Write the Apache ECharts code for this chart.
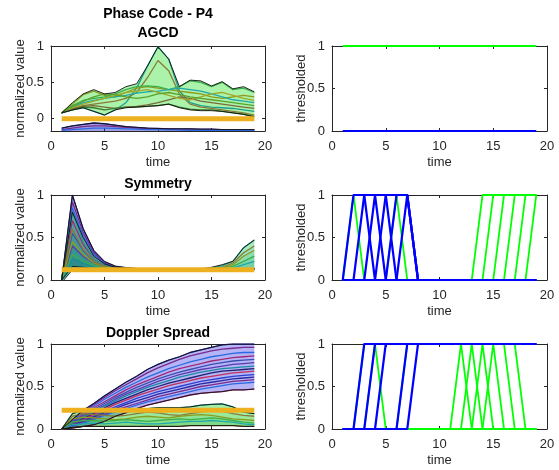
<!DOCTYPE html>
<html>
<head>
<meta charset="utf-8">
<script src="https://cdn.jsdelivr.net/npm/echarts@6/dist/echarts.min.js"></script>
<style>
  html, body { margin: 0; padding: 0; background: #fff; }
  #chart { width: 559px; height: 470px; }
</style>
</head>
<body>
<div id="chart"></div>
<script>
// time axis
const t = [1,2,3,4,5,6,7,8,9,10,11,12,13,14,15,16,17,18,19];
const yTicks = [0, 0.5, 1];
const thresholds = [0, 0.12, 0.22];   // AGCD, Symmetry, Doppler Spread

// ---- AGCD (normalized) ----
const agcdGreenUpper = [0.08,0.22,0.34,0.40,0.34,0.36,0.44,0.48,0.72,0.99,0.82,0.44,0.53,0.52,0.45,0.51,0.41,0.44,0.37];
const agcdGreenLower = [0.08,0.12,0.15,0.10,0.05,0.12,0.15,0.16,0.17,0.18,0.20,0.15,0.12,0.11,0.11,0.10,0.08,0.06,0.02];
const agcdGreenLines = [
  [0.08,0.12,0.15,0.10,0.05,0.12,0.22,0.42,0.72,0.99,0.82,0.38,0.22,0.18,0.16,0.15,0.14,0.12,0.10],
  [0.08,0.14,0.18,0.20,0.22,0.24,0.28,0.36,0.56,0.80,0.66,0.34,0.20,0.16,0.14,0.12,0.10,0.08,0.05],
  [0.08,0.20,0.33,0.38,0.32,0.30,0.36,0.42,0.44,0.42,0.40,0.38,0.36,0.34,0.30,0.28,0.30,0.32,0.30],
  [0.08,0.18,0.25,0.28,0.30,0.34,0.40,0.44,0.45,0.44,0.40,0.44,0.52,0.50,0.44,0.50,0.40,0.42,0.36],
  [0.08,0.16,0.22,0.25,0.28,0.30,0.32,0.35,0.37,0.38,0.40,0.42,0.40,0.38,0.34,0.30,0.26,0.24,0.22],
  [0.08,0.13,0.17,0.18,0.16,0.14,0.16,0.17,0.19,0.22,0.26,0.30,0.28,0.24,0.22,0.20,0.18,0.16,0.14],
  [0.08,0.15,0.20,0.24,0.28,0.32,0.36,0.38,0.40,0.36,0.32,0.28,0.26,0.30,0.34,0.36,0.32,0.28,0.25],
  [0.08,0.12,0.16,0.15,0.12,0.14,0.16,0.16,0.17,0.18,0.20,0.16,0.13,0.12,0.12,0.10,0.08,0.06,0.03],
  [0.08,0.17,0.24,0.30,0.34,0.33,0.30,0.28,0.30,0.34,0.36,0.33,0.30,0.28,0.26,0.24,0.22,0.20,0.18]
];
const agcdBlueUpper = [-0.13,-0.10,-0.08,-0.06,-0.07,-0.09,-0.11,-0.12,-0.13,-0.135,-0.14,-0.14,-0.14,-0.145,-0.145,-0.15,-0.15,-0.15,-0.15];
const agcdBlueLower = [-0.22,-0.22,-0.22,-0.22,-0.22,-0.22,-0.22,-0.22,-0.22,-0.22,-0.22,-0.22,-0.22,-0.22,-0.22,-0.22,-0.22,-0.22,-0.22];
const agcdBlueLines = [
  [-0.13,-0.10,-0.08,-0.06,-0.07,-0.09,-0.11,-0.12,-0.13,-0.135,-0.14,-0.14,-0.14,-0.145,-0.145,-0.15,-0.15,-0.15,-0.15],
  [-0.15,-0.13,-0.11,-0.10,-0.10,-0.11,-0.12,-0.13,-0.14,-0.14,-0.145,-0.15,-0.15,-0.15,-0.15,-0.155,-0.155,-0.155,-0.155],
  [-0.16,-0.15,-0.14,-0.13,-0.13,-0.135,-0.14,-0.145,-0.15,-0.15,-0.155,-0.155,-0.16,-0.16,-0.16,-0.16,-0.16,-0.16,-0.16]
];

// ---- Symmetry (normalized) ----
const symBlueUpper = [0,1.00,0.61,0.35,0.22,0.165,0.145,0.135,0.13,0.13,0.13,0.13,0.13,0.13,0.13,0.13,0.13,0.13,0.13];
const symBlueLower = [0,0.16,0.15,0.13,0.125,0.12,0.12,0.12,0.12,0.12,0.12,0.12,0.12,0.12,0.12,0.12,0.12,0.12,0.12];
const symBlueLines = [
  [0,1.00,0.60,0.34,0.21,0.16,0.145,0.135,0.13,0.13,0.13,0.13,0.13,0.13,0.13,0.13,0.13,0.13,0.13],
  [0,0.92,0.56,0.32,0.20,0.155,0.14,0.13,0.13,0.13,0.13,0.13,0.13,0.13,0.13,0.13,0.13,0.13,0.13],
  [0,0.85,0.52,0.30,0.19,0.15,0.14,0.13,0.13,0.13,0.13,0.13,0.13,0.13,0.13,0.13,0.13,0.13,0.13],
  [0,0.70,0.42,0.25,0.17,0.14,0.13,0.13,0.13,0.13,0.13,0.13,0.13,0.13,0.13,0.13,0.13,0.13,0.13],
  [0,0.55,0.35,0.22,0.16,0.14,0.13,0.13,0.13,0.13,0.13,0.13,0.13,0.13,0.13,0.13,0.13,0.13,0.13],
  [0,0.40,0.28,0.20,0.15,0.13,0.13,0.13,0.13,0.13,0.13,0.13,0.13,0.13,0.13,0.13,0.13,0.13,0.13],
  [0,0.25,0.20,0.16,0.14,0.13,0.13,0.13,0.13,0.13,0.13,0.13,0.13,0.13,0.13,0.13,0.13,0.13,0.13]
];
const symGreenUpper = [0,0.80,0.50,0.28,0.19,0.15,0.14,0.13,0.13,0.13,0.13,0.13,0.13,0.13,0.15,0.18,0.22,0.38,0.47];
const symGreenLower = [-0.03,0.12,0.12,0.11,0.11,0.11,0.11,0.11,0.11,0.11,0.11,0.11,0.11,0.11,0.11,0.12,0.12,0.13,0.13];
const symGreenLines = [
  [0,0.80,0.45,0.25,0.17,0.14,0.13,0.13,0.13,0.13,0.13,0.13,0.13,0.13,0.14,0.17,0.22,0.38,0.47],
  [0,0.60,0.36,0.22,0.16,0.14,0.13,0.13,0.13,0.13,0.13,0.13,0.13,0.13,0.13,0.15,0.20,0.32,0.40],
  [0,0.45,0.30,0.20,0.15,0.13,0.13,0.13,0.13,0.13,0.13,0.13,0.13,0.13,0.13,0.14,0.18,0.28,0.35],
  [0,0.30,0.22,0.17,0.14,0.13,0.13,0.13,0.13,0.13,0.13,0.13,0.13,0.13,0.13,0.13,0.16,0.22,0.28],
  [0,0.15,0.15,0.14,0.13,0.13,0.13,0.13,0.13,0.13,0.13,0.13,0.13,0.13,0.13,0.13,0.14,0.18,0.22]
];

// ---- Doppler Spread (normalized) ----
const dopBlueUpper = [0,0.11,0.22,0.30,0.39,0.47,0.55,0.62,0.70,0.76,0.81,0.85,0.90,0.93,0.96,0.99,1.00,1.00,1.00];
const dopBlueLower = [0,0.01,0.03,0.05,0.09,0.15,0.19,0.24,0.28,0.31,0.34,0.37,0.40,0.42,0.43,0.44,0.46,0.46,0.47];
const dopBlueLines = [
  [0,0.11,0.22,0.30,0.39,0.47,0.55,0.62,0.70,0.76,0.81,0.85,0.90,0.93,0.96,0.99,1.00,1.00,1.00],
  [0,0.10,0.20,0.29,0.37,0.45,0.52,0.59,0.66,0.72,0.77,0.82,0.86,0.89,0.92,0.94,0.95,0.96,0.96],
  [0,0.09,0.19,0.27,0.35,0.42,0.49,0.55,0.61,0.66,0.71,0.75,0.79,0.82,0.85,0.87,0.89,0.90,0.90],
  [0,0.08,0.17,0.25,0.32,0.39,0.46,0.52,0.57,0.62,0.67,0.71,0.74,0.77,0.80,0.82,0.84,0.85,0.86],
  [0,0.07,0.16,0.23,0.30,0.37,0.43,0.49,0.54,0.59,0.63,0.67,0.70,0.73,0.76,0.78,0.80,0.81,0.82],
  [0,0.07,0.14,0.21,0.28,0.35,0.41,0.46,0.51,0.56,0.60,0.64,0.67,0.70,0.72,0.74,0.76,0.77,0.78],
  [0,0.06,0.13,0.20,0.27,0.33,0.39,0.44,0.49,0.53,0.57,0.61,0.64,0.67,0.69,0.71,0.72,0.73,0.74],
  [0,0.05,0.12,0.18,0.25,0.31,0.36,0.41,0.46,0.50,0.54,0.57,0.60,0.63,0.66,0.68,0.69,0.70,0.71],
  [0,0.05,0.11,0.17,0.23,0.29,0.34,0.39,0.43,0.47,0.51,0.54,0.57,0.60,0.62,0.64,0.66,0.67,0.68],
  [0,0.04,0.10,0.15,0.21,0.26,0.31,0.36,0.40,0.44,0.47,0.50,0.53,0.56,0.58,0.60,0.62,0.63,0.64],
  [0,0.04,0.09,0.14,0.19,0.24,0.29,0.33,0.37,0.41,0.44,0.47,0.50,0.53,0.55,0.57,0.59,0.60,0.61],
  [0,0.03,0.08,0.12,0.17,0.22,0.26,0.30,0.34,0.38,0.41,0.44,0.47,0.50,0.52,0.54,0.56,0.57,0.58],
  [0,0.03,0.07,0.11,0.16,0.20,0.24,0.28,0.32,0.35,0.38,0.41,0.44,0.47,0.49,0.51,0.53,0.54,0.55],
  [0,0.01,0.03,0.05,0.09,0.15,0.19,0.24,0.28,0.31,0.34,0.37,0.40,0.42,0.43,0.44,0.46,0.46,0.47]
];
const dopGreenUpper = [0,0.18,0.22,0.21,0.20,0.21,0.22,0.23,0.24,0.25,0.25,0.25,0.26,0.28,0.29,0.295,0.26,0.20,0.18];
const dopGreenLower = [0,0.02,0.03,0.03,0.03,0.03,0.03,0.03,0.03,0.03,0.03,0.03,0.04,0.04,0.04,0.04,0.04,0.03,0.03];
const dopGreenLines = [
  [0,0.18,0.22,0.21,0.20,0.21,0.22,0.23,0.24,0.25,0.25,0.25,0.26,0.28,0.29,0.295,0.26,0.20,0.18],
  [0,0.15,0.18,0.17,0.16,0.15,0.16,0.18,0.20,0.19,0.17,0.16,0.18,0.20,0.22,0.21,0.18,0.16,0.15],
  [0,0.12,0.14,0.13,0.12,0.11,0.12,0.14,0.15,0.14,0.13,0.15,0.16,0.17,0.16,0.14,0.12,0.11,0.10],
  [0,0.08,0.10,0.10,0.09,0.10,0.11,0.10,0.09,0.10,0.11,0.12,0.11,0.12,0.13,0.12,0.10,0.08,0.07],
  [0,0.05,0.06,0.07,0.06,0.07,0.08,0.07,0.06,0.06,0.07,0.08,0.09,0.09,0.10,0.09,0.08,0.06,0.05],
  [0,0.02,0.03,0.03,0.03,0.03,0.03,0.03,0.03,0.03,0.03,0.03,0.04,0.04,0.04,0.04,0.04,0.03,0.03]
];

// ---- thresholded ----
const agcdThrGreen = [[1,1,1,1,1,1,1,1,1,1,1,1,1,1,1,1,1,1,1]];
const agcdThrBlue  = [[0,0,0,0,0,0,0,0,0,0,0,0,0,0,0,0,0,0,0]];
const symThrGreen = [
  [0,1,0,0,0,0,0,0,0,0,0,0,0,0,0,0,0,0,0],
  [0,0,0,0,0,1,0,0,0,0,0,0,0,0,0,0,0,0,0],
  [0,0,0,0,0,0,0,0,0,0,0,0,0,1,1,1,1,1,1],
  [0,0,0,0,0,0,0,0,0,0,0,0,0,0,1,1,1,1,1],
  [0,0,0,0,0,0,0,0,0,0,0,0,0,0,0,1,1,1,1],
  [0,0,0,0,0,0,0,0,0,0,0,0,0,0,0,0,1,1,1],
  [0,0,0,0,0,0,0,0,0,0,0,0,0,0,0,0,0,1,1],
  [0,0,0,0,0,0,0,0,0,0,0,0,0,0,0,0,0,0,1]
];
const symThrBlue = [
  [0,1,1,0,0,0,0,0,0,0,0,0,0,0,0,0,0,0,0],
  [0,0,1,1,0,0,0,0,0,0,0,0,0,0,0,0,0,0,0],
  [0,0,0,1,1,0,0,0,0,0,0,0,0,0,0,0,0,0,0],
  [0,0,0,0,1,1,1,0,0,0,0,0,0,0,0,0,0,0,0],
  [0,0,0,0,0,1,1,0,0,0,0,0,0,0,0,0,0,0,0],
  [0,0,0,0,0,0,1,0,0,0,0,0,0,0,0,0,0,0,0]
];
const dopThrGreen = [
  [0,0,1,1,0,0,0,0,0,0,0,0,0,0,0,0,0,0,0],
  [0,0,0,0,0,0,0,0,0,0,0,1,0,0,0,0,0,0,0],
  [0,0,0,0,0,0,0,0,0,0,0,0,1,0,0,0,0,0,0],
  [0,0,0,0,0,0,0,0,0,0,0,0,0,1,0,0,0,0,0],
  [0,0,0,0,0,0,0,0,0,0,0,0,0,0,1,0,0,0,0],
  [0,0,0,1,1,1,1,1,1,1,1,1,1,1,1,1,0,0,0],
  [0,0,0,0,0,0,1,1,1,1,1,1,1,1,1,1,1,0,0]
];
const dopThrBlue = [
  [0,0,1,1,1,1,1,1,1,1,1,1,1,1,1,1,1,1,1],
  [0,0,0,1,1,1,1,1,1,1,1,1,1,1,1,1,1,1,1],
  [0,0,0,0,1,1,1,1,1,1,1,1,1,1,1,1,1,1,1],
  [0,0,0,0,0,0,1,1,1,1,1,1,1,1,1,1,1,1,1],
  [0,0,0,0,0,0,0,1,1,1,1,1,1,1,1,1,1,1,1]
];

const greenPal = ['#1f9e8e','#8a7a3a','#8c9a1e','#3cae4c','#20a8a8','#7a6a3a','#a0a828','#3a7a2a','#5aa02a'];
const bluePal  = ['#2a2aa0','#7a2a8a','#2a6ae0','#a02a7a','#3a50b0','#5a3ab0','#1a8aa0','#202070','#c03060','#2a40d0'];
const txt = '#262626';
const font = 'Liberation Sans';

const chart = echarts.init(document.getElementById('chart'), null, { renderer: 'canvas' });

const grids = [
  { left: 51,  top: 46,  width: 214, height: 85 },
  { left: 332, top: 46,  width: 215, height: 85 },
  { left: 51,  top: 195, width: 214, height: 85 },
  { left: 332, top: 195, width: 215, height: 85 },
  { left: 51,  top: 344, width: 214, height: 85 },
  { left: 332, top: 344, width: 215, height: 85 }
];
const yMins = [-0.17, 0, 0, 0, 0, 0];
const yNames = ['normalized value', 'thresholded'];

const xAxis = [], yAxis = [];
grids.forEach(function (g, i) {
  g.outerBoundsMode = 'none';
  g.containLabel = false;
  [0, 1].forEach(function (k) {
    xAxis.push({
      type: 'value', gridIndex: i, position: k ? 'top' : 'bottom',
      min: 0, max: 20, interval: 5,
      axisLine: { show: true, onZero: false, lineStyle: { color: txt, width: 1 } },
      axisTick: { show: true, inside: true, length: 3, lineStyle: { color: txt } },
      axisLabel: { show: !k, color: txt, fontSize: 13, fontFamily: font, margin: 9 },
      splitLine: { show: false },
      name: k ? '' : 'time', nameLocation: 'middle', nameGap: 25, nameMoveOverlap: false,
      nameTextStyle: { color: txt, fontSize: 13, fontFamily: font }
    });
    yAxis.push({
      type: 'value', gridIndex: i, position: k ? 'right' : 'left',
      min: yMins[i], max: 1,
      axisLine: { show: true, onZero: false, lineStyle: { color: txt, width: 1 } },
      axisTick: { show: true, inside: true, length: 3, customValues: yTicks, lineStyle: { color: txt } },
      axisLabel: { show: !k, color: txt, fontSize: 13, fontFamily: font, margin: 7, customValues: yTicks },
      splitLine: { show: false },
      name: k ? '' : yNames[i % 2], nameLocation: 'middle', nameGap: 24, nameRotate: 90, nameMoveOverlap: false,
      nameTextStyle: { color: txt, fontSize: 13, fontFamily: font }
    });
  });
});

const series = [];
function lineS(gi, ys, color, width, z) {
  series.push({
    type: 'line', xAxisIndex: gi * 2, yAxisIndex: gi * 2,
    data: t.map(function (x, k) { return [x, ys[k]]; }),
    symbol: 'none', silent: true, animation: false, z: z,
    lineStyle: { color: color, width: width }
  });
}
function band(gi, upper, lower, fill, z) {
  series.push({
    type: 'custom', xAxisIndex: gi * 2, yAxisIndex: gi * 2,
    data: [[t[0], upper[0]]], clip: true, silent: true, animation: false, z: z,
    renderItem: function (params, api) {
      const pts = [];
      for (let k = 0; k < t.length; k++) pts.push(api.coord([t[k], upper[k]]));
      for (let k = t.length - 1; k >= 0; k--) pts.push(api.coord([t[k], lower[k]]));
      return { type: 'polygon', shape: { points: pts }, style: { fill: fill, stroke: null } };
    }
  });
}
function group(gi, upper, lower, lines, fill, pal, layer) {
  band(gi, upper, lower, fill, 1);
  if (layer) lines.forEach(function (ys) { band(gi, ys, lower, layer, 1); });
  lines.forEach(function (ys, j) { lineS(gi, ys, pal[j % pal.length], 1.3, 3); });
  lineS(gi, upper, '#111', 0.9, 4);
  lineS(gi, lower, '#111', 0.9, 4);
}
function thrLine(gi, level) {
  lineS(gi, t.map(function () { return level; }), '#EDB120', 5, 6);
}

// AGCD
group(0, agcdGreenUpper, agcdGreenLower, agcdGreenLines, 'rgba(0,220,0,0.33)', greenPal);
group(0, agcdBlueUpper, agcdBlueLower, agcdBlueLines, 'rgba(40,40,200,0.45)', bluePal);
thrLine(0, thresholds[0]);
// Symmetry
group(2, symBlueUpper, symBlueLower, symBlueLines, 'rgba(60,40,230,0.35)', bluePal, 'rgba(20,60,150,0.10)');
group(2, symGreenUpper, symGreenLower, symGreenLines, 'rgba(0,220,60,0.30)', greenPal, 'rgba(0,140,110,0.08)');
thrLine(2, thresholds[1]);
// Doppler
group(4, dopBlueUpper, dopBlueLower, dopBlueLines, 'rgba(40,40,230,0.35)', bluePal);
group(4, dopGreenUpper, dopGreenLower, dopGreenLines, 'rgba(0,220,0,0.32)', greenPal, 'rgba(0,160,40,0.06)');
thrLine(4, thresholds[2]);

// thresholded panels: green first, blue on top
[[1, agcdThrGreen, agcdThrBlue], [3, symThrGreen, symThrBlue], [5, dopThrGreen, dopThrBlue]].forEach(function (p) {
  p[1].forEach(function (ys) { lineS(p[0], ys, '#00FF00', 1.8, 3); });
  p[2].forEach(function (ys) { lineS(p[0], ys, '#0000FF', 2.2, 4); });
});

const titles = [
  { text: 'Phase Code - P4', x: 158, y: 14 },
  { text: 'AGCD', x: 158, y: 33 },
  { text: 'Symmetry', x: 158, y: 184 },
  { text: 'Doppler Spread', x: 158, y: 333 }
];

chart.setOption({
  animation: false,
  backgroundColor: '#fff',
  grid: grids,
  xAxis: xAxis,
  yAxis: yAxis,
  series: series,
  graphic: titles.map(function (tt) {
    return {
      type: 'text', x: tt.x, y: tt.y, silent: true,
      style: { text: tt.text, fill: '#000', font: 'bold 14px "Liberation Sans"', align: 'center', verticalAlign: 'middle' }
    };
  })
});
</script>
</body>
</html>
